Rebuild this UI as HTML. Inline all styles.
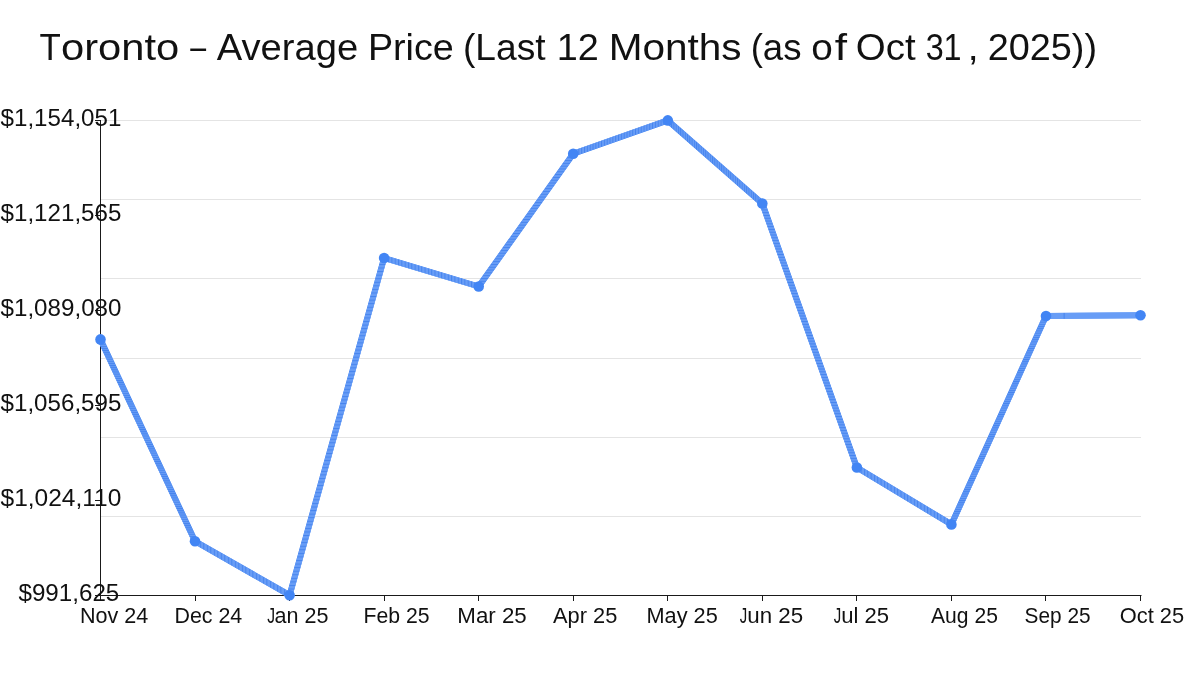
<!DOCTYPE html>
<html lang="en"><head><meta charset="utf-8"><title>Toronto – Average Price</title>
<style>
html,body{margin:0;padding:0;background:#fff;}
body{width:1200px;height:675px;overflow:hidden;}
svg{display:block;}
text{font-family:"Liberation Sans","DejaVu Sans",sans-serif;fill:#111111;}
</style></head><body>
<svg width="1200" height="675" viewBox="0 0 1200 675">
<rect width="1200" height="675" fill="#ffffff"/>
<text font-size="37.8"><tspan class="m" x="39.52" y="60" textLength="21.28" lengthAdjust="spacingAndGlyphs">T</tspan><tspan class="m" x="61.01" y="60" textLength="118.18" lengthAdjust="spacingAndGlyphs">oronto</tspan> <tspan class="m" x="190.15" y="59" textLength="15.87" lengthAdjust="spacingAndGlyphs">–</tspan> <tspan class="m" x="216.70" y="60" textLength="141.45" lengthAdjust="spacingAndGlyphs">Average</tspan> <tspan class="m" x="367.90" y="60" textLength="85.94" lengthAdjust="spacingAndGlyphs">Price</tspan> <tspan class="m" x="462.96" y="60" textLength="82.67" lengthAdjust="spacingAndGlyphs">(Last</tspan> <tspan class="m" x="556.70" y="60" textLength="42.05" lengthAdjust="spacingAndGlyphs">12</tspan> <tspan class="m" x="608.66" y="60" textLength="132.94" lengthAdjust="spacingAndGlyphs">Months</tspan> <tspan class="m" x="750.70" y="60" textLength="50.82" lengthAdjust="spacingAndGlyphs">(as</tspan> <tspan class="m" x="811.33" y="60" textLength="21.54" lengthAdjust="spacingAndGlyphs">o</tspan><tspan class="m" x="834.87" y="60" textLength="12.28" lengthAdjust="spacingAndGlyphs">f</tspan> <tspan class="m" x="855.84" y="60" textLength="59.82" lengthAdjust="spacingAndGlyphs">Oct</tspan> <tspan class="m" x="925.63" y="60" textLength="35.97" lengthAdjust="spacingAndGlyphs">31</tspan><tspan class="m" x="967.88" y="60" textLength="10.85" lengthAdjust="spacingAndGlyphs">,</tspan> <tspan class="m" x="987.70" y="60" textLength="109.35" lengthAdjust="spacingAndGlyphs">2025))</tspan></text>
<rect x="101" y="120" width="1040" height="1" fill="#e4e4e4"/>
<rect x="101" y="199" width="1040" height="1" fill="#e4e4e4"/>
<rect x="101" y="278" width="1040" height="1" fill="#e4e4e4"/>
<rect x="101" y="358" width="1040" height="1" fill="#e4e4e4"/>
<rect x="101" y="437" width="1040" height="1" fill="#e4e4e4"/>
<rect x="101" y="516" width="1040" height="1" fill="#e4e4e4"/>
<rect x="100" y="120" width="1" height="476" fill="#1a1a1a"/>
<rect x="95" y="595" width="1046.5" height="1" fill="#1a1a1a"/>
<rect x="100" y="595" width="1" height="6" fill="#1a1a1a"/>
<rect x="195" y="595" width="1" height="6" fill="#1a1a1a"/>
<rect x="289" y="595" width="1" height="6" fill="#1a1a1a"/>
<rect x="384" y="595" width="1" height="6" fill="#1a1a1a"/>
<rect x="478" y="595" width="1" height="6" fill="#1a1a1a"/>
<rect x="573" y="595" width="1" height="6" fill="#1a1a1a"/>
<rect x="667" y="595" width="1" height="6" fill="#1a1a1a"/>
<rect x="762" y="595" width="1" height="6" fill="#1a1a1a"/>
<rect x="856" y="595" width="1" height="6" fill="#1a1a1a"/>
<rect x="951" y="595" width="1" height="6" fill="#1a1a1a"/>
<rect x="1045" y="595" width="1" height="6" fill="#1a1a1a"/>
<rect x="1140" y="595" width="1" height="6" fill="#1a1a1a"/>
<rect x="95" y="120" width="6" height="1" fill="#1a1a1a"/>
<rect x="95" y="215" width="6" height="1" fill="#1a1a1a"/>
<rect x="95" y="310" width="6" height="1" fill="#1a1a1a"/>
<rect x="95" y="405" width="6" height="1" fill="#1a1a1a"/>
<rect x="95" y="500" width="6" height="1" fill="#1a1a1a"/>
<rect x="95" y="595" width="6" height="1" fill="#1a1a1a"/>
<text class="m" x="0.55" y="125.6" font-size="23.6" textLength="120.87" lengthAdjust="spacingAndGlyphs">$1,154,051</text>
<text class="m" x="0.55" y="220.6" font-size="23.6" textLength="120.87" lengthAdjust="spacingAndGlyphs">$1,121,565</text>
<text class="m" x="0.55" y="315.6" font-size="23.6" textLength="120.90" lengthAdjust="spacingAndGlyphs">$1,089,080</text>
<text class="m" x="0.55" y="410.6" font-size="23.6" textLength="120.87" lengthAdjust="spacingAndGlyphs">$1,056,595</text>
<text class="m" x="0.54" y="505.6" font-size="23.6" textLength="120.83" lengthAdjust="spacingAndGlyphs">$1,024,110</text>
<text class="m" x="18.48" y="600.6" font-size="23.6" textLength="100.85" lengthAdjust="spacingAndGlyphs">$991,625</text>
<text class="m" x="79.94" y="622.7" font-size="21.6" textLength="68.33" lengthAdjust="spacingAndGlyphs">Nov 24</text>
<text class="m" x="174.45" y="622.7" font-size="21.6" textLength="67.81" lengthAdjust="spacingAndGlyphs">Dec 24</text>
<text y="622.7" font-size="21.6"><tspan class="m" x="267.33" textLength="7.84" lengthAdjust="spacingAndGlyphs">J</tspan><tspan class="m" x="274.60" textLength="53.94" lengthAdjust="spacingAndGlyphs">an 25</tspan></text>
<text class="m" x="363.57" y="622.7" font-size="21.6" textLength="66.05" lengthAdjust="spacingAndGlyphs">Feb 25</text>
<text class="m" x="457.38" y="622.7" font-size="21.6" textLength="69.37" lengthAdjust="spacingAndGlyphs">Mar 25</text>
<text class="m" x="553.03" y="622.7" font-size="21.6" textLength="64.26" lengthAdjust="spacingAndGlyphs">Apr 25</text>
<text class="m" x="646.53" y="622.7" font-size="21.6" textLength="71.21" lengthAdjust="spacingAndGlyphs">May 25</text>
<text y="622.7" font-size="21.6"><tspan class="m" x="739.65" textLength="7.46" lengthAdjust="spacingAndGlyphs">J</tspan><tspan class="m" x="747.23" textLength="55.85" lengthAdjust="spacingAndGlyphs">un 25</tspan></text>
<text y="622.7" font-size="21.6"><tspan class="m" x="833.65" textLength="7.46" lengthAdjust="spacingAndGlyphs">J</tspan><tspan class="m" x="841.25" textLength="47.82" lengthAdjust="spacingAndGlyphs">ul 25</tspan></text>
<text class="m" x="931.04" y="622.7" font-size="21.6" textLength="66.85" lengthAdjust="spacingAndGlyphs">Aug 25</text>
<text class="m" x="1024.62" y="622.7" font-size="21.6" textLength="65.95" lengthAdjust="spacingAndGlyphs">Sep 25</text>
<text class="m" x="1119.72" y="622.7" font-size="21.6" textLength="64.38" lengthAdjust="spacingAndGlyphs">Oct 25</text>
<polyline points="100.50,339.40 195.05,541.25 289.59,595.20 384.13,258.00 478.68,286.50 573.23,153.75 667.77,120.40 762.32,203.50 856.86,467.50 951.40,524.40 1045.95,316.10 1140.50,315.30" fill="none" stroke="#5f97f4" stroke-width="6" stroke-linejoin="round" stroke-linecap="round"/>
<defs><pattern id="p0" patternUnits="userSpaceOnUse" width="16" height="2.135"><rect width="16" height="2.135" fill="#689df6"/><rect width="16" height="1" fill="#4684ee"/></pattern><pattern id="p1" patternUnits="userSpaceOnUse" width="3.505" height="16"><rect width="3.505" height="16" fill="#689df6"/><rect width="1" height="16" fill="#4684ee"/></pattern><pattern id="p2" patternUnits="userSpaceOnUse" width="16" height="3.567"><rect width="16" height="3.567" fill="#689df6"/><rect width="16" height="1" fill="#4684ee"/></pattern><pattern id="p3" patternUnits="userSpaceOnUse" width="3.317" height="16"><rect width="3.317" height="16" fill="#689df6"/><rect width="1" height="16" fill="#4684ee"/></pattern><pattern id="p4" patternUnits="userSpaceOnUse" width="16" height="2.808"><rect width="16" height="2.808" fill="#689df6"/><rect width="16" height="1" fill="#4684ee"/></pattern><pattern id="p5" patternUnits="userSpaceOnUse" width="2.835" height="16"><rect width="2.835" height="16" fill="#689df6"/><rect width="1" height="16" fill="#4684ee"/></pattern><pattern id="p6" patternUnits="userSpaceOnUse" width="2.275" height="16"><rect width="2.275" height="16" fill="#689df6"/><rect width="1" height="16" fill="#4684ee"/></pattern><pattern id="p7" patternUnits="userSpaceOnUse" width="16" height="2.792"><rect width="16" height="2.792" fill="#689df6"/><rect width="16" height="1" fill="#4684ee"/></pattern><pattern id="p8" patternUnits="userSpaceOnUse" width="3.323" height="16"><rect width="3.323" height="16" fill="#689df6"/><rect width="1" height="16" fill="#4684ee"/></pattern><pattern id="p9" patternUnits="userSpaceOnUse" width="16" height="2.203"><rect width="16" height="2.203" fill="#689df6"/><rect width="16" height="1" fill="#4684ee"/></pattern><pattern id="p10" patternUnits="userSpaceOnUse" width="118.181" height="16"><rect width="118.181" height="16" fill="#689df6"/><rect width="1" height="16" fill="#4684ee"/></pattern></defs>
<line x1="100.50" y1="339.40" x2="195.05" y2="541.25" stroke="url(#p0)" stroke-width="6" stroke-linecap="round"/>
<line x1="195.05" y1="541.25" x2="289.59" y2="595.20" stroke="url(#p1)" stroke-width="6" stroke-linecap="round"/>
<line x1="289.59" y1="595.20" x2="384.13" y2="258.00" stroke="url(#p2)" stroke-width="6" stroke-linecap="round"/>
<line x1="384.13" y1="258.00" x2="478.68" y2="286.50" stroke="url(#p3)" stroke-width="6" stroke-linecap="round"/>
<line x1="478.68" y1="286.50" x2="573.23" y2="153.75" stroke="url(#p4)" stroke-width="6" stroke-linecap="round"/>
<line x1="573.23" y1="153.75" x2="667.77" y2="120.40" stroke="url(#p5)" stroke-width="6" stroke-linecap="round"/>
<line x1="667.77" y1="120.40" x2="762.32" y2="203.50" stroke="url(#p6)" stroke-width="6" stroke-linecap="round"/>
<line x1="762.32" y1="203.50" x2="856.86" y2="467.50" stroke="url(#p7)" stroke-width="6" stroke-linecap="round"/>
<line x1="856.86" y1="467.50" x2="951.40" y2="524.40" stroke="url(#p8)" stroke-width="6" stroke-linecap="round"/>
<line x1="951.40" y1="524.40" x2="1045.95" y2="316.10" stroke="url(#p9)" stroke-width="6" stroke-linecap="round"/>
<line x1="1045.95" y1="316.10" x2="1140.50" y2="315.30" stroke="url(#p10)" stroke-width="6" stroke-linecap="round"/>
<circle cx="100.5" cy="339.4" r="5.3" fill="#4285f4"/>
<circle cx="195.0" cy="541.2" r="5.3" fill="#4285f4"/>
<circle cx="289.6" cy="595.2" r="5.3" fill="#4285f4"/>
<circle cx="384.1" cy="258.0" r="5.3" fill="#4285f4"/>
<circle cx="478.7" cy="286.5" r="5.3" fill="#4285f4"/>
<circle cx="573.2" cy="153.8" r="5.3" fill="#4285f4"/>
<circle cx="667.8" cy="120.4" r="5.3" fill="#4285f4"/>
<circle cx="762.3" cy="203.5" r="5.3" fill="#4285f4"/>
<circle cx="856.9" cy="467.5" r="5.3" fill="#4285f4"/>
<circle cx="951.4" cy="524.4" r="5.3" fill="#4285f4"/>
<circle cx="1046.0" cy="316.1" r="5.3" fill="#4285f4"/>
<circle cx="1140.5" cy="315.3" r="5.3" fill="#4285f4"/>
</svg></body></html>
